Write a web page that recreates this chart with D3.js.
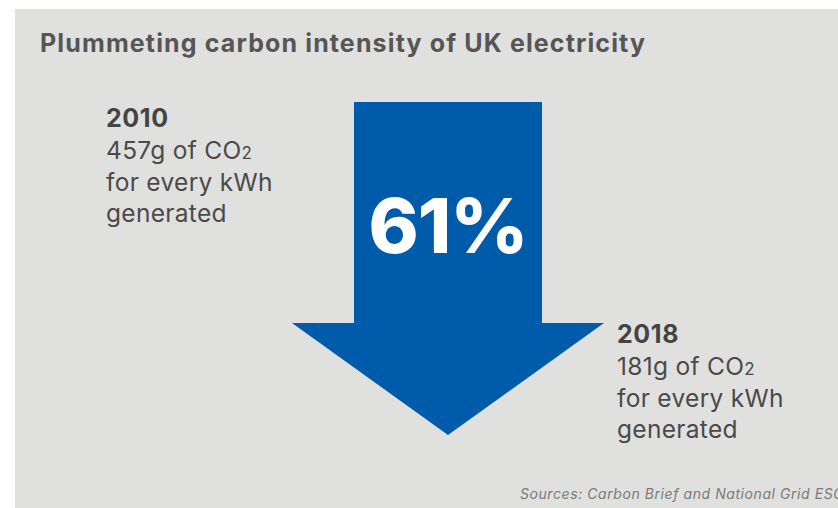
<!doctype html>
<html>
  <head>
    <meta charset="utf-8">
    <title>Plummeting carbon intensity of UK electricity</title>
    <style>
      body { margin: 0; background: #fff; }
      svg text { font-family: Inter, "Noto Sans", sans-serif; }
    </style>
  </head>
  <body>
    <div id="content"></div>
    <script src="https://d3js.org/d3.v7.min.js"></script>
    <script>
      const WIDTH = 838;
      const HEIGHT = 508;

      // data
      const years = ['2010', '2018'];
      const intensity = [457, 181];
      const reductionLabel = '61%';
      const unitLines = ['for every kWh', 'generated'];

      const svg = d3.select('#content')
        .append('svg')
        .attr('width', WIDTH)
        .attr('height', HEIGHT);

      svg.append('rect')
        .attr('x', 15)
        .attr('y', 9)
        .attr('width', WIDTH - 15)
        .attr('height', HEIGHT - 9)
        .attr('fill', '#e0e0df');

      svg.append('text')
        .attr('x', 40)
        .attr('y', 52)
        .attr('fill', '#565656')
        .attr('font-weight', 700)
        .attr('font-size', 25)
        .attr('textLength', 605)
        .attr('lengthAdjust', 'spacing')
        .text('Plummeting carbon intensity of UK electricity');

      // vertical scale: arrow runs from the 2010 value down to the 2018 value
      const y = d3.scaleLinear()
        .domain([intensity[0], intensity[1]])
        .range([102, 435]);
      const x = d3.scaleLinear().domain([0, 1]).range([292, 604]);

      const shaftL = 354, shaftR = 542, neck = 323;
      const arrow = d3.path();
      arrow.moveTo(shaftL, y(intensity[0]));
      arrow.lineTo(shaftR, y(intensity[0]));
      arrow.lineTo(shaftR, neck);
      arrow.lineTo(x(1), neck);
      arrow.lineTo(x(0.5), y(intensity[1]));
      arrow.lineTo(x(0), neck);
      arrow.lineTo(shaftL, neck);
      arrow.closePath();

      svg.append('path')
        .attr('d', arrow.toString())
        .attr('fill', '#005baa');

      svg.append('text')
        .attr('x', x(0.5))
        .attr('y', 253)
        .attr('text-anchor', 'middle')
        .attr('fill', '#fff')
        .attr('font-weight', 800)
        .attr('font-size', 76)
        .attr('letter-spacing', -1)
        .text(reductionLabel);

      const labelPos = [{x: 106, y: 127}, {x: 617, y: 343}];

      years.forEach((yr, i) => {
        const g = svg.append('g')
          .attr('transform', `translate(${labelPos[i].x},${labelPos[i].y})`);
        g.append('text')
          .attr('fill', '#444')
          .attr('font-weight', 700)
          .attr('font-size', 25)
          .attr('letter-spacing', 0.6)
          .text(yr);
        const t = g.append('text')
          .attr('y', 32)
          .attr('fill', '#4a4a4a')
          .attr('font-size', 24.5)
          .attr('letter-spacing', 0.3);
        t.append('tspan').text(`${intensity[i]}g of CO`);
        t.append('tspan').attr('font-size', 17).text('2');
        unitLines.forEach((line, j) => {
          g.append('text')
            .attr('y', 64 + j * 31)
            .attr('fill', '#4a4a4a')
            .attr('font-size', 24.5)
            .attr('letter-spacing', 0.3)
            .text(line);
        });
      });

      svg.append('text')
        .attr('x', 520)
        .attr('y', 499)
        .attr('fill', '#7a7a7a')
        .attr('font-style', 'italic')
        .attr('font-size', 14)
        .attr('textLength', 324)
        .attr('lengthAdjust', 'spacing')
        .text('Sources: Carbon Brief and National Grid ESO');
    </script>
  </body>
</html>
